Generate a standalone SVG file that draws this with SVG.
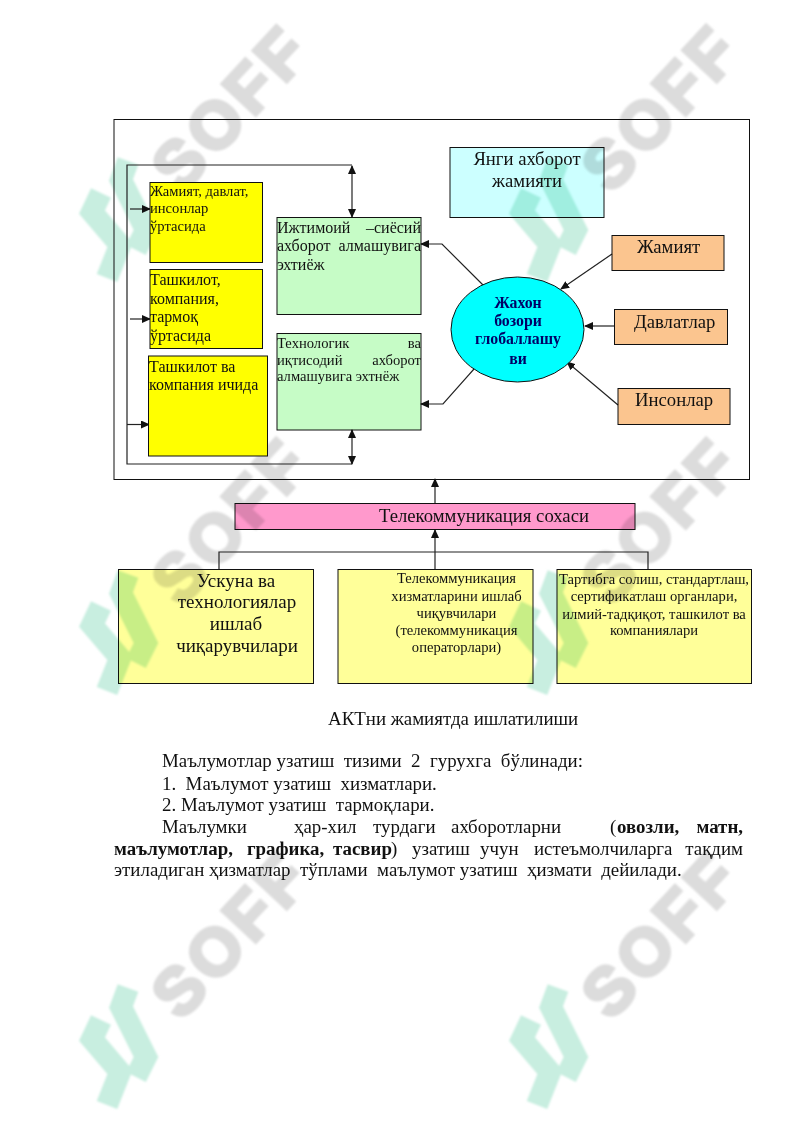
<svg xmlns="http://www.w3.org/2000/svg" width="800" height="1131" viewBox="0 0 800 1131">
<style>
text{font-family:"Liberation Serif","Noto Sans",serif;fill:#111}
.b{stroke:#111;stroke-width:1}
.m{mix-blend-mode:multiply}
.y{fill:#ff0}.g{fill:#c6fcc6}.o{fill:#fbc58f}.p{fill:#ff99cc}.l{fill:#ffff99}
.c{fill:none;stroke:#222;stroke-width:1.2}
.t{font-size:16px}.u{font-size:18.7px}.s{font-size:14.6px}.d{font-size:18.9px}
.wm{font-family:"Liberation Sans",sans-serif;font-weight:700;font-size:66px;fill:#dcdcdc;stroke:#dcdcdc;stroke-width:4;letter-spacing:5px}
.lg{fill:none;stroke:#c8eee0;stroke-width:22}
</style>
<defs>
<marker id="a" markerWidth="9" markerHeight="8" refX="8" refY="4" orient="auto-start-reverse" markerUnits="userSpaceOnUse"><path d="M0 0L9 4L0 8Z" fill="#111"/></marker>
<filter id="soft"><feGaussianBlur stdDeviation="1"/></filter>
<g id="mark">
<text class="wm" transform="translate(181 195) rotate(-47)">SOFF</text>
<path class="lg" d="M101 193L92 212L120 245L107 278"/>
<path class="lg" d="M128 161L121 180L146 230L136 250"/>
</g>
</defs>
<rect width="800" height="1131" fill="#fff"/>
<g id="watermark" filter="url(#soft)">
<use href="#mark"/><use href="#mark" x="430"/>
<use href="#mark" y="413"/><use href="#mark" x="430" y="413"/>
<use href="#mark" y="827"/><use href="#mark" x="430" y="827"/>
</g>
<rect id="frame" x="114" y="119.500" width="635.500" height="360" fill="none" stroke="#111"/>
<g id="connectors">
<path class="c" d="M352 165H127V464H352"/>
<path class="c" d="M352 166V217" marker-start="url(#a)" marker-end="url(#a)"/>
<path class="c" d="M352 430V464" marker-start="url(#a)" marker-end="url(#a)"/>
<path class="c" d="M130 209H150" marker-end="url(#a)"/>
<path class="c" d="M130 319H150" marker-end="url(#a)"/>
<path class="c" d="M127 424.500H149" marker-end="url(#a)"/>
<path class="c" d="M483 285L442 244H421" marker-end="url(#a)"/>
<path class="c" d="M474 369L443 404H421" marker-end="url(#a)"/>
<path class="c" d="M612 254L561 289" marker-end="url(#a)"/>
<path class="c" d="M614 326H585" marker-end="url(#a)"/>
<path class="c" d="M618 405L567 362" marker-end="url(#a)"/>
<path class="c" d="M435 503V479" marker-end="url(#a)"/>
<path class="c" d="M435 569V530" marker-end="url(#a)"/>
<path class="c" d="M219 569V552H648V569"/>
</g>
<g id="n1"><rect class="y b" x="150" y="182.500" width="112.500" height="80"/><text class="s"><tspan x="150" y="196">Жамият, давлат,</tspan><tspan x="150" y="213">инсонлар</tspan><tspan x="150" y="231">ўртасида</tspan></text></g>
<g id="n2"><rect class="y b" x="150" y="269.500" width="112.500" height="79"/><text class="t"><tspan x="150" y="285">Ташкилот,</tspan><tspan x="150" y="304">компания,</tspan><tspan x="150" y="322">тармоқ</tspan><tspan x="150" y="341">ўртасида</tspan></text></g>
<g id="n3"><rect class="y b" x="148.500" y="356" width="119" height="100"/><text class="t"><tspan x="149" y="372">Ташкилот ва</tspan><tspan x="149" y="390">компания ичида</tspan></text></g>
<g id="n4"><rect class="g b m" x="277" y="217.500" width="144" height="97"/><text class="t"><tspan x="277" y="233">Ижтимоий</tspan><tspan x="421" y="233" text-anchor="end">–сиёсий</tspan><tspan x="277" y="251">ахборот</tspan><tspan x="421" y="251" text-anchor="end">алмашувига</tspan><tspan x="277" y="270">эхтиёж</tspan></text></g>
<g id="n5"><rect class="g b m" x="277" y="333.500" width="144" height="96.500"/><text class="s"><tspan x="277" y="348">Технологик</tspan><tspan x="421" y="348" text-anchor="end">ва</tspan><tspan x="277" y="365">иқтисодий</tspan><tspan x="421" y="365" text-anchor="end">ахборот</tspan><tspan x="277" y="381">алмашувига эхтнёж</tspan></text></g>
<g id="n6"><rect fill="#ccffff" class="b m" x="450" y="147.500" width="154" height="70"/><text class="u" text-anchor="middle"><tspan x="527" y="165">Янги ахборот</tspan><tspan x="527" y="187">жамияти</tspan></text></g>
<g id="n7"><ellipse cx="517.500" cy="329.500" rx="66.500" ry="52.500" fill="#00ffff" stroke="#111"/><text font-size="15.800" font-weight="700" text-anchor="middle" style="fill:#000066"><tspan x="518" y="308">Жахон</tspan><tspan x="518" y="326">бозори</tspan><tspan x="518" y="344">глобаллашу</tspan><tspan x="518" y="364">ви</tspan></text></g>
<g id="n8"><rect class="o b m" x="612" y="235.500" width="112" height="35"/><text class="u" x="637" y="253">Жамият</text></g>
<g id="n9"><rect class="o b m" x="614.500" y="309.500" width="113" height="35"/><text class="u" x="634" y="328">Давлатлар</text></g>
<g id="n10"><rect class="o b m" x="618" y="388.500" width="112" height="36"/><text class="u" x="635" y="406">Инсонлар</text></g>
<g id="n11"><rect class="p b m" x="235" y="503.500" width="400" height="26"/><text class="u" x="379" y="522">Телекоммуникация сохаси</text></g>
<g id="n12"><rect class="l b m" x="118.500" y="569.500" width="195" height="114"/><text font-size="19" text-anchor="middle"><tspan x="236" y="587">Ускуна ва</tspan><tspan x="237" y="608">технологиялар</tspan><tspan x="236" y="630">ишлаб</tspan><tspan x="237" y="652">чиқарувчилари</tspan></text></g>
<g id="n13"><rect class="l b m" x="338" y="569.500" width="195" height="114"/><text class="s" text-anchor="middle"><tspan x="456.500" y="583">Телекоммуникация</tspan><tspan x="456.500" y="601">хизматларини ишлаб</tspan><tspan x="456.500" y="618">чиқувчилари</tspan><tspan x="456.500" y="635">(телекоммуникация</tspan><tspan x="456.500" y="652">операторлари)</tspan></text></g>
<g id="n14"><rect class="l b m" x="557" y="569.500" width="194.500" height="114"/><text class="s" text-anchor="middle"><tspan x="654" y="584">Тартибга солиш, стандартлаш,</tspan><tspan x="654" y="601">сертификатлаш органлари,</tspan><tspan x="654" y="619">илмий-тадқиқот, ташкилот ва</tspan><tspan x="654" y="635">компаниялари</tspan></text></g>
<g id="body">
<text class="d" x="328" y="725">АКТни жамиятда ишлатилиши</text>
<text class="d" x="162" y="767" xml:space="preserve">Маълумотлар узатиш  тизими  2  гурухга  бўлинади:</text>
<text class="d" x="162" y="790" xml:space="preserve">1.  Маълумот узатиш  хизматлари.</text>
<text class="d" x="162" y="811" xml:space="preserve">2. Маълумот узатиш  тармоқлари.</text>
<text class="d" y="833"><tspan x="162">Маълумки</tspan><tspan x="294">ҳар-хил</tspan><tspan x="373">турдаги</tspan><tspan x="451">ахборотларни</tspan><tspan x="610">(</tspan><tspan x="617" font-weight="700">овозли,</tspan><tspan x="743" text-anchor="end" font-weight="700">матн,</tspan></text>
<text class="d" y="855"><tspan x="114" font-weight="700">маълумотлар,</tspan><tspan x="247" font-weight="700">графика,</tspan><tspan x="333" font-weight="700">тасвир</tspan><tspan x="391">)</tspan><tspan x="412">узатиш</tspan><tspan x="480">учун</tspan><tspan x="534">истеъмолчиларга</tspan><tspan x="743" text-anchor="end">тақдим</tspan></text>
<text class="d" x="114" y="876" xml:space="preserve">этиладиган ҳизматлар  тўплами  маълумот узатиш  ҳизмати  дейилади.</text>
</g>
</svg>
